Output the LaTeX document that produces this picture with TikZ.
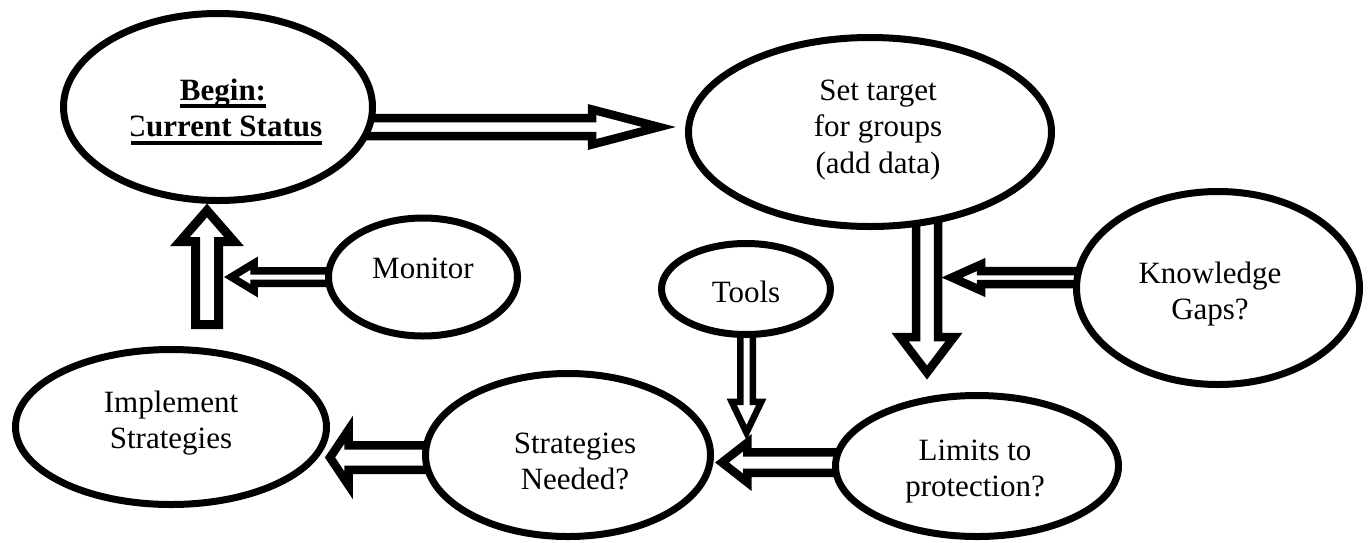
\documentclass[tikz,border=0pt]{standalone}
\usepackage{fontspec}
\setmainfont{Liberation Serif}
\usetikzlibrary{calc,shapes.geometric}
\newcommand\ulbox[1]{\setbox0\hbox{#1}\rlap{\rule[-4pt]{\wd0}{2pt}}\box0}
\newcommand\lines[1]{\vtop{\baselineskip=18.25pt\lineskiplimit=-\maxdimen\halign{\hfil##\hfil\cr#1\crcr}}}
% block arrow: [style]{start}{tip}{half shaft}{half head}{head length}
\newcommand\blockarrow[6][]{%
  \path ($(#3)!#6!(#2)$) coordinate (bh);
  \draw[barrow,#1] ($(#2)!#4!90:(#3)$) -- ($(bh)!#4!90:(#3)$) -- ($(bh)!#5!90:(#3)$) -- (#3)
     -- ($(bh)!#5!-90:(#3)$) -- ($(bh)!#4!-90:(#3)$) -- ($(#2)!#4!-90:(#3)$) -- cycle;}
\begin{document}
\begin{tikzpicture}[x=0.5pt,y=-0.5pt,
  oval/.style={ellipse, draw=black, fill=white, line width=3.5pt, inner sep=0pt},
  txt/.style={font=\fontsize{15.5pt}{18.25pt}\selectfont, inner sep=0pt, anchor=base},
  barrow/.style={draw=black, fill=white, line width=4.25pt, line join=miter, miter limit=20}]
\useasboundingbox (0,0) rectangle (1369,542);
\fill[white] (0,0) rectangle (1369,542);

% arrow end points
\coordinate (a1s) at (366,127);   \coordinate (a1t) at (659,127);
\coordinate (a2s) at (927,218);   \coordinate (a2t) at (927,372.5);
\coordinate (a3s) at (1081,277.5);\coordinate (a3t) at (952,277.5);
\coordinate (a4s) at (207,324.5); \coordinate (a4t) at (207,210.5);
\coordinate (a5s) at (332,277);   \coordinate (a5t) at (231.3,277);
\coordinate (a6s) at (429,457.5); \coordinate (a6t) at (330,457.5);
\coordinate (a7s) at (839,462.5); \coordinate (a7t) at (722,462.5);
\coordinate (a8s) at (746.5,331); \coordinate (a8t) at (746.5,432.6);

\blockarrow{a1s}{a1t}{4.5pt}{8.75pt}{33.5pt}
\blockarrow{a2s}{a2t}{5.5pt}{13.5pt}{17.75pt}
\blockarrow{a3s}{a3t}{3.25pt}{6.5pt}{14.5pt}
\blockarrow[line width=4.5pt]{a4s}{a4t}{5.75pt}{13.5pt}{15.5pt}
\blockarrow[line width=3.75pt]{a5s}{a5t}{3.125pt}{6.875pt}{11.35pt}
\blockarrow{a6s}{a6t}{6.125pt}{13.875pt}{9.3pt}
\blockarrow{a7s}{a7t}{5.125pt}{9.875pt}{12.65pt}
\blockarrow[line width=3.25pt]{a8s}{a8t}{3.125pt}{7.375pt}{15.4pt}

% ovals
\node[oval, minimum width=154.5pt, minimum height=93.5pt] (begin)     at (218,107) {};
\node[oval, minimum width=181.5pt, minimum height=94.5pt] (target)    at (870,132) {};
\node[oval, minimum width=94.5pt,  minimum height=59pt]   (monitor)   at (423,277) {};
\node[oval, minimum width=155.5pt, minimum height=77.5pt] (implement) at (171,427) {};
\node[oval, minimum width=142.5pt, minimum height=81.5pt] (needed)    at (568,455) {};
\node[oval, minimum width=141.5pt, minimum height=70.5pt] (limits)    at (977,466) {};
\node[oval, minimum width=141.5pt, minimum height=96.5pt] (gaps)      at (1218,288) {};
\node[oval, minimum width=84.5pt,  minimum height=45.5pt] (tools)     at (746,289) {};

% texts
\begin{scope}
\clip (131,0) rectangle (400,220);
\node[txt] (t-begin) at (223,100) {\bfseries\lines{\ulbox{Begin:}\cr\ulbox{Current Status}}};
\end{scope}
\node[txt] (t-target)    at (878,100)  {\lines{Set target\cr for groups\cr (add data)}};
\node[txt] (t-monitor)   at (423,278)  {Monitor};
\node[txt] (t-tools)     at (746,302)  {Tools};
\node[txt] (t-gaps)      at (1210,283) {\lines{Knowledge\cr Gaps?}};
\node[txt] (t-implement) at (171,412)  {\lines{Implement\cr Strategies}};
\node[txt] (t-needed)    at (575,453)  {\lines{Strategies\cr Needed?}};
\node[txt] (t-limits)    at (975,460)  {\lines{Limits to\cr protection?}};
\end{tikzpicture}
\end{document}
